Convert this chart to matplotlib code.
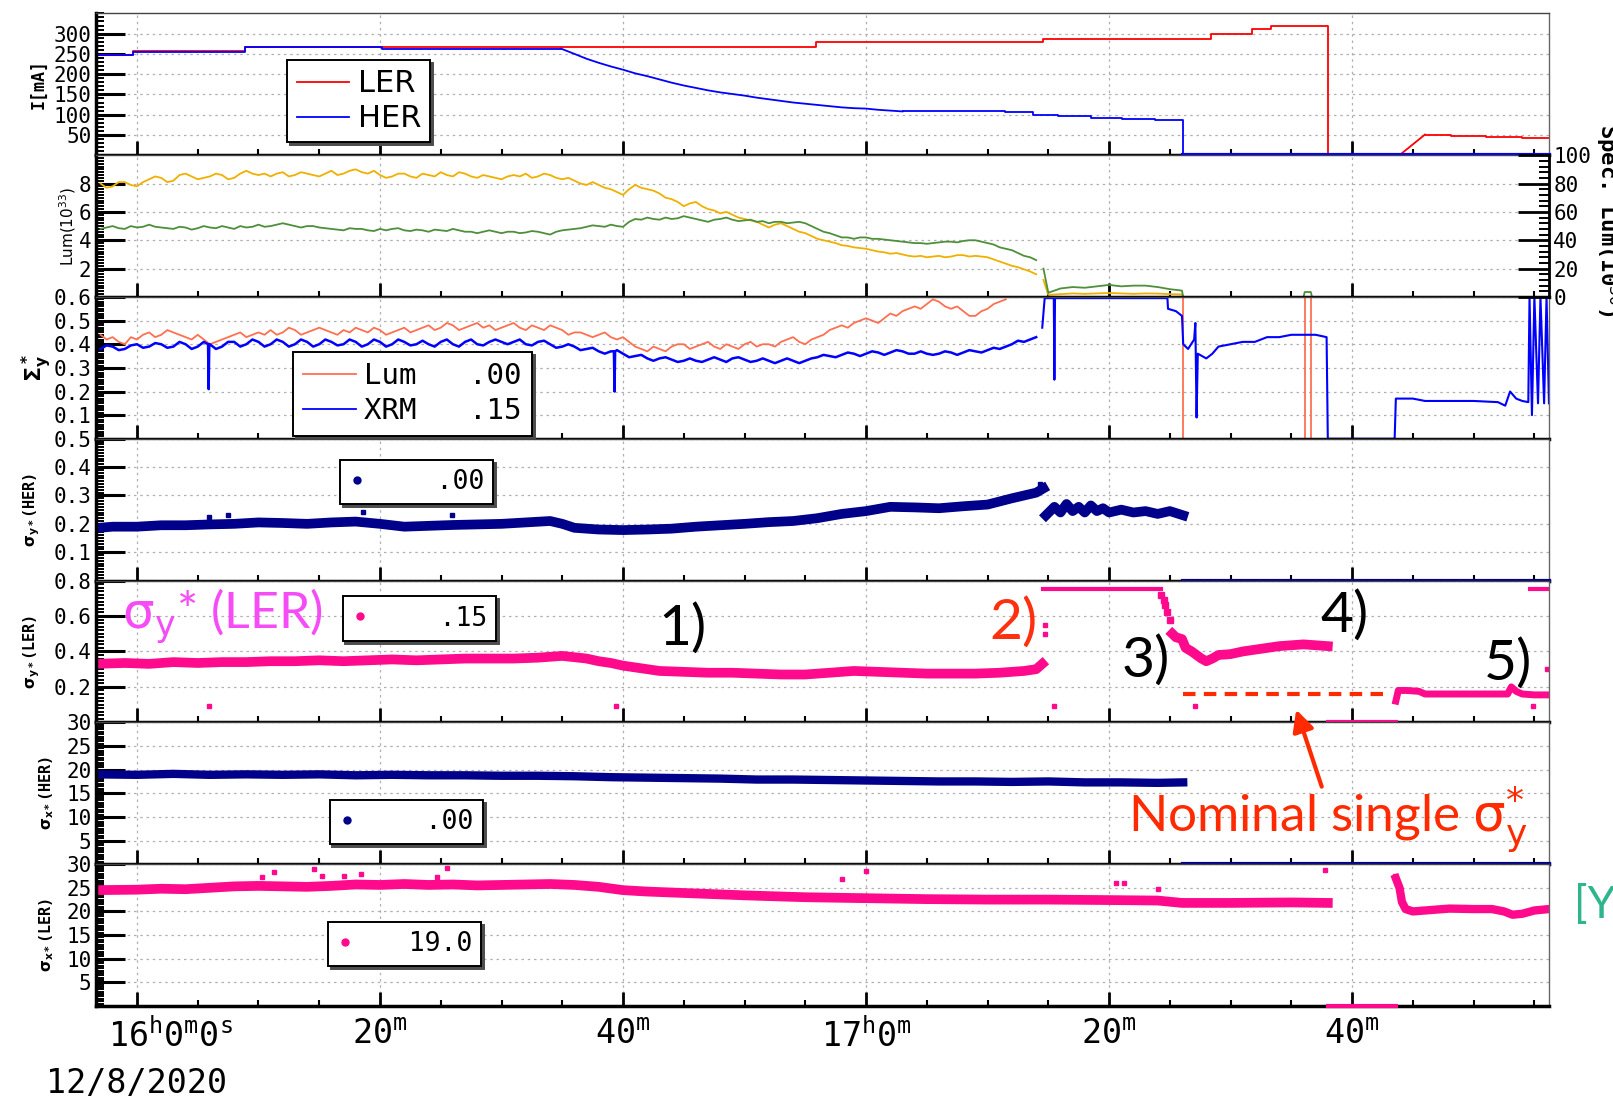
import numpy as np
import matplotlib
matplotlib.use("Agg")
import matplotlib.pyplot as plt
from matplotlib.ticker import AutoMinorLocator, FixedLocator
from matplotlib.lines import Line2D

plt.rcParams.update({
    "figure.facecolor": "white",
    "axes.facecolor": "white",
    "mathtext.fontset": "dejavusans",
    "mathtext.rm": "DejaVu Sans Mono",
    "mathtext.it": "DejaVu Sans Mono:italic",
    "mathtext.bf": "DejaVu Sans Mono:bold",
})
MONO = "DejaVu Sans Mono"
ANNO = ["Lato", "DejaVu Sans"]

C_LER = "#ff0000"
C_HER = "#0000ff"
C_YEL = "#f0b000"
C_GRN = "#4e8f3a"
C_SAL = "#ff7050"
C_NAVY = "#00008b"
C_MAG = "#ff0a8c"
C_NOM = "#ff2a00"

# time axis: minutes after 16:00 (12/8/2020)
T0, T1 = -3.4, 116.2
major_t = [0, 20, 40, 60, 80, 100]
major_lbl = [r"$16^{\mathrm{h}}0^{\mathrm{m}}0^{\mathrm{s}}$", r"$20^{\mathrm{m}}$", r"$40^{\mathrm{m}}$",
             r"$17^{\mathrm{h}}0^{\mathrm{m}}$", r"$20^{\mathrm{m}}$", r"$40^{\mathrm{m}}$"]

# ---- panel 1: beam currents I[mA] ----
ler_step_t = [-3.4, -0.3, 8.9, 55.9, 74.6, 88.4, 91.8, 93.3, 98.0, 103.9]
ler_step_v = [248, 256, 268, 279, 287, 300, 311, 319, 0, 0]
ler_ramp_t = [103.9, 106.0]
ler_ramp_v = [0, 51]
ler_tail_t = [106.0, 108.1, 111.0, 114.0, 116.2]
ler_tail_v = [51, 48, 45, 43, 43]

her_a_t = [-3.4, -0.3, 8.9, 20.2, 34.9]
her_a_v = [248, 255, 266, 263, 263]
her_decay_t = [34.9, 36, 37, 38, 39, 40, 41, 42, 43, 44, 45, 46, 47, 48, 49,
               50, 51, 52, 53, 54, 55, 56, 57, 58, 59, 60, 61, 62, 63]
her_decay_v = [263, 250, 238, 228, 219, 211, 202, 195, 187, 179, 172, 166, 160, 155, 151,
               147, 142, 138, 134, 130, 127, 124, 121, 118, 116, 115, 112, 110, 108]
her_b_t = [63, 71.4, 73.7, 75.8, 78.5, 81.1, 83.8, 86.1]
her_b_v = [108, 106, 100, 96, 93, 90, 87, 0]
her_off_t = [86.1, 116.2]     # HER aborted -> zero
ler_off_t = [98.0, 103.6]     # LER aborted -> zero

# ---- panel 2: luminosity, samples every minute (t = -3..74) and half-minute in between ----
lum_t = list(range(-3, 75))
lum_mid_t = list(np.arange(-2.5, 74, 1.0))
lum_yel = [8.0, 7.8, 8.1, 7.8, 8.3, 8.4, 8.2, 8.7, 8.3, 8.5, 8.6, 8.4, 8.9,
           8.6, 8.5, 8.8, 8.6, 8.7, 8.5, 8.9, 8.7, 9.0, 8.7,
           8.6, 8.5, 8.7, 8.4, 8.6, 8.8, 8.5, 8.7, 8.4, 8.5,
           8.3, 8.6, 8.7, 8.5, 8.6, 8.3, 8.2, 7.9, 7.9, 7.6,
           7.2, 7.9, 7.6, 7.3, 6.9, 6.4, 6.7, 6.2, 5.9, 5.8,
           5.5, 5.3, 4.9, 5.2, 4.8, 4.5, 4.1, 3.9, 3.65, 3.5,
           3.4, 3.2, 3.05, 3.0, 2.85, 2.8, 2.9, 2.85, 2.95, 2.9,
           2.8, 2.5, 2.2, 1.95, 1.6]
lum_yel_mid = [7.7, 8.1, 7.9, 8.1, 8.5, 8.1, 8.6, 8.5, 8.4, 8.7, 8.3, 8.7, 8.7,
               8.7, 8.7, 8.5, 8.8, 8.6, 8.7, 8.6, 8.9, 8.8, 8.9,
               8.4, 8.7, 8.5, 8.7, 8.5, 8.6, 8.8, 8.5, 8.6, 8.4,
               8.5, 8.5, 8.4, 8.7, 8.4, 8.4, 8.0, 8.1, 7.7, 7.4,
               7.6, 7.7, 7.5, 7.0, 6.7, 6.6, 6.4, 6.1, 6.0, 5.6,
               5.4, 5.1, 5.1, 5.0, 4.6, 4.3, 4.0, 3.8, 3.6, 3.45,
               3.3, 3.15, 3.1, 2.9, 2.9, 2.85, 2.8, 2.95, 2.85, 2.85,
               2.65, 2.35, 2.1, 1.8]
lum_grn = [4.8, 5.0, 4.8, 4.9, 5.1, 4.9, 4.8, 4.9, 4.85, 4.9, 5.0, 4.8, 4.9,
           5.1, 5.0, 5.2, 5.0, 5.0, 4.9, 4.8, 4.7, 4.8, 4.7,
           4.8, 4.8, 4.7, 4.75, 4.6, 4.7, 4.8, 4.6, 4.5, 4.7,
           4.5, 4.6, 4.55, 4.6, 4.4, 4.7, 4.8, 4.95, 5.0, 5.1,
           4.95, 5.5, 5.6, 5.45, 5.5, 5.7, 5.5, 5.3, 5.5, 5.45,
           5.4, 5.3, 5.2, 5.3, 5.25, 5.2, 4.8, 4.5, 4.2, 4.1,
           4.2, 4.1, 4.0, 3.9, 3.8, 3.75, 3.85, 3.9, 3.95, 4.0,
           3.8, 3.5, 3.3, 2.9, 2.6]
lum_grn_mid = [4.9, 4.85, 5.0, 4.95, 4.95, 4.85, 4.95, 4.75, 5.0, 4.85, 4.9, 5.0, 4.95,
               4.95, 5.1, 5.1, 4.9, 5.0, 4.85, 4.75, 4.85, 4.8, 4.65,
               4.7, 4.85, 4.65, 4.7, 4.75, 4.65, 4.7, 4.6, 4.6, 4.6,
               4.6, 4.5, 4.65, 4.5, 4.6, 4.75, 4.85, 5.05, 4.95, 5.0,
               5.3, 5.45, 5.5, 5.6, 5.55, 5.6, 5.4, 5.45, 5.6, 5.35,
               5.45, 5.35, 5.3, 5.2, 5.3, 5.0, 4.6, 4.35, 4.2, 4.2,
               4.1, 4.05, 3.95, 3.85, 3.8, 3.8, 3.9, 3.85, 4.0, 3.9,
               3.7, 3.4, 3.1, 2.8]
yel_tail_t = [74.6, 75, 76, 77, 78, 79, 80, 81, 82, 83, 84, 85, 86, 86.1, 116.2]
yel_tail_v = [1.2, 0.15, 0.2, 0.25, 0.22, 0.25, 0.28, 0.25, 0.22, 0.25, 0.24, 0.2, 0.18, 0.0, 0.0]
grn_tail_t = [74.6, 75, 76, 77, 78, 79, 80, 81, 82, 83, 84, 85, 86, 86.1, 96.0, 96.1, 96.6, 96.7, 116.2]
grn_tail_v = [2.0, 0.3, 0.6, 0.7, 0.65, 0.75, 0.85, 0.75, 0.8, 0.8, 0.7, 0.55, 0.45, 0, 0, 0.35, 0.35, 0, 0]

# ---- panel 3: Sigma_y* from Lum and XRM ----
sal_t = list(range(-3, 72)) + [71.5]
sal_mid_t = list(np.arange(-2.5, 71, 1.0))
sal_v = [0.44, 0.43, 0.40, 0.42, 0.45, 0.44, 0.45, 0.43, 0.44, 0.40, 0.42, 0.44, 0.43,
         0.45, 0.46, 0.45, 0.46, 0.45, 0.47, 0.45, 0.46, 0.47, 0.45,
         0.46, 0.45, 0.47, 0.46, 0.48, 0.47, 0.48, 0.47, 0.49, 0.48,
         0.47, 0.49, 0.46, 0.47, 0.48, 0.46, 0.45, 0.44, 0.44, 0.43,
         0.43, 0.39, 0.37, 0.38, 0.39, 0.40, 0.39, 0.41, 0.38, 0.39,
         0.40, 0.39, 0.40, 0.41, 0.43, 0.40, 0.43, 0.46, 0.48, 0.49,
         0.51, 0.49, 0.53, 0.54, 0.56, 0.57, 0.58, 0.55, 0.54, 0.52,
         0.55, 0.58, 0.59]
sal_mid_v = [0.42, 0.41, 0.43, 0.44, 0.43, 0.46, 0.44, 0.42, 0.42, 0.41, 0.43, 0.45, 0.44,
             0.44, 0.44, 0.47, 0.44, 0.46, 0.46, 0.44, 0.45, 0.46, 0.47,
             0.44, 0.46, 0.45, 0.47, 0.46, 0.49, 0.46, 0.48, 0.47, 0.46,
             0.48, 0.47, 0.48, 0.46, 0.47, 0.44, 0.45, 0.43, 0.45, 0.42,
             0.41, 0.38, 0.39, 0.37, 0.40, 0.38, 0.40, 0.39, 0.40, 0.38,
             0.41, 0.40, 0.39, 0.42, 0.41, 0.42, 0.44, 0.47, 0.47, 0.50,
             0.50, 0.51, 0.52, 0.55, 0.55, 0.59, 0.56, 0.56, 0.52, 0.54,
             0.57]
sal_tail_t = [86.1, 86.1, 96.1, 96.1, 96.6, 96.6, 116.2]
sal_tail_v = [0.6, 0.0, 0.0, 0.6, 0.6, 0.0, 0.0]

xrm_t = list(range(-3, 75))
xrm_mid_t = list(np.arange(-2.5, 74, 1.0))
xrm_v = [0.38, 0.39, 0.38, 0.40, 0.39, 0.40, 0.39, 0.40, 0.39, 0.40, 0.39, 0.41, 0.40,
         0.41, 0.40, 0.41, 0.40, 0.41, 0.40, 0.41, 0.40, 0.41, 0.40,
         0.41, 0.40, 0.41, 0.40, 0.40, 0.41, 0.40, 0.41, 0.40, 0.41,
         0.41, 0.41, 0.40, 0.41, 0.40, 0.39, 0.39, 0.38, 0.37, 0.37,
         0.36, 0.35, 0.34, 0.34, 0.335, 0.33, 0.33, 0.335, 0.335, 0.34,
         0.335, 0.33, 0.33, 0.33, 0.33, 0.33, 0.345, 0.35, 0.355, 0.36,
         0.36, 0.365, 0.365, 0.37, 0.36, 0.36, 0.36, 0.365, 0.365, 0.37,
         0.375, 0.38, 0.40, 0.41, 0.43]
xrm_mid_v = [0.395, 0.375, 0.395, 0.385, 0.405, 0.385, 0.41, 0.38, 0.41, 0.38, 0.41, 0.39, 0.42,
             0.39, 0.42, 0.39, 0.42, 0.39, 0.42, 0.395, 0.42, 0.39, 0.42,
             0.39, 0.42, 0.395, 0.415, 0.39, 0.42, 0.39, 0.42, 0.395, 0.42,
             0.40, 0.42, 0.395, 0.415, 0.385, 0.40, 0.375, 0.385, 0.36, 0.375,
             0.345, 0.355, 0.33, 0.345, 0.325, 0.34, 0.325, 0.345, 0.325, 0.345,
             0.325, 0.34, 0.32, 0.34, 0.32, 0.34, 0.355, 0.345, 0.365, 0.35,
             0.37, 0.355, 0.375, 0.36, 0.37, 0.355, 0.37, 0.355, 0.375, 0.365,
             0.385, 0.39, 0.415, 0.42]
xrm_spike_t = [5.85, 5.9, 5.95, 39.25, 39.3, 39.35]
xrm_spike_v = [0.40, 0.21, 0.40, 0.37, 0.20, 0.37]
xrm_tail_t = [74.5, 74.7, 75.45, 75.5, 75.55, 84.8, 84.85, 85.5, 86.0, 86.1,
              86.5, 87.0, 87.1, 87.2, 87.3, 88, 88.5, 89, 90, 91,
              92, 93, 94, 95, 96, 97, 97.9, 98.0, 103.5, 103.6,
              104, 105, 106, 108, 110, 112, 112.6, 113, 113.5, 114,
              114.5, 114.6, 114.8, 115.0, 115.3, 115.5, 115.8, 116.0, 116.2]
xrm_tail_v = [0.47, 0.595, 0.595, 0.25, 0.595, 0.595, 0.55, 0.54, 0.52, 0.40,
              0.38, 0.42, 0.49, 0.09, 0.36, 0.34, 0.36, 0.39, 0.40, 0.41,
              0.41, 0.43, 0.43, 0.44, 0.44, 0.44, 0.43, 0.0, 0.0, 0.17,
              0.17, 0.17, 0.16, 0.16, 0.16, 0.155, 0.14, 0.2, 0.17, 0.16,
              0.155, 0.6, 0.1, 0.6, 0.15, 0.6, 0.15, 0.6, 0.15]

# ---- panel 4: sigma_y*(HER) ----
syh_t = [-3.4, -2, 0, 2, 4, 6, 8, 10, 12, 14, 16, 18, 20, 22, 24, 26, 28, 30, 32, 34, 35,
         36, 37, 38, 40, 42, 44, 46, 48, 50, 52, 54, 56, 58, 60, 62, 64, 66, 68, 70, 72, 73, 74, 74.6]
syh_v = [0.185, 0.19, 0.19, 0.195, 0.195, 0.198, 0.2, 0.205, 0.203, 0.2, 0.205, 0.208, 0.2, 0.19,
         0.193, 0.196, 0.198, 0.2, 0.205, 0.21, 0.2, 0.186, 0.183, 0.18, 0.178, 0.18, 0.183, 0.19,
         0.195, 0.2, 0.206, 0.21, 0.22, 0.235, 0.245, 0.26, 0.258, 0.255, 0.262, 0.268, 0.29, 0.3,
         0.31, 0.325]
syh2_t = [74.8, 75.5, 76, 76.5, 77, 77.5, 78, 78.5, 79, 79.5, 80, 81, 82, 83, 84, 85, 86.1]
syh2_v = [0.23, 0.26, 0.24, 0.27, 0.245, 0.26, 0.24, 0.265, 0.245, 0.255, 0.24, 0.25, 0.24,
          0.245, 0.235, 0.245, 0.23]
syh_out_t = [5.9, 7.5, 18.6, 25.9, 74.3]
syh_out_v = [0.225, 0.231, 0.243, 0.231, 0.34]

# ---- panel 5: sigma_y*(LER) ----
syl_t = [-3.4, -1, 1, 3, 5, 7, 9, 11, 13, 15, 17, 19, 21, 23, 25, 27, 29, 31, 33, 35, 37, 38, 39,
         40, 41, 42, 43, 45, 47, 49, 51, 53, 55, 57, 59, 61, 63, 65, 67, 69, 71, 73, 74, 74.5]
syl_v = [0.33, 0.335, 0.33, 0.34, 0.335, 0.34, 0.34, 0.345, 0.345, 0.35, 0.345, 0.35, 0.355,
         0.35, 0.355, 0.36, 0.36, 0.36, 0.365, 0.375, 0.36, 0.345, 0.335, 0.32, 0.31, 0.3, 0.29,
         0.285, 0.28, 0.28, 0.275, 0.27, 0.27, 0.28, 0.29, 0.285, 0.28, 0.275, 0.275, 0.275, 0.28,
         0.29, 0.3, 0.33]
syl_top_t = [74.6, 84.3]
syl_top_v = [0.75, 0.75]
syl_drop_t = [84.3, 84.5, 84.6, 84.8, 85.0]
syl_drop_v = [0.72, 0.69, 0.66, 0.62, 0.58]
syl2_t = [85.2, 85.5, 86, 86.3, 86.8, 87.2, 87.6, 88, 88.5, 89, 90, 91, 92, 93, 94, 95, 96, 97, 98]
syl2_v = [0.5, 0.48, 0.47, 0.42, 0.4, 0.38, 0.36, 0.345, 0.36, 0.38, 0.385, 0.4, 0.41, 0.42,
          0.43, 0.435, 0.44, 0.435, 0.43]
syl3_t = [103.6, 103.8, 104.5, 105.5, 106, 108, 110, 112, 112.8, 113.1, 113.5, 114, 115, 116.2]
syl3_v = [0.12, 0.18, 0.18, 0.175, 0.16, 0.16, 0.16, 0.16, 0.16, 0.2, 0.175, 0.16, 0.155, 0.155]
syl_end_t = [114.6, 116.2]
syl_end_v = [0.75, 0.75]
syl_out_t = [5.9, 39.4, 75.5, 87.1, 74.7, 74.7, 114.9, 116.0]
syl_out_v = [0.09, 0.09, 0.09, 0.09, 0.5, 0.55, 0.09, 0.3]
nominal_t = [86.1, 102.6]
nominal_v = [0.16, 0.16]

# ---- panel 6: sigma_x*(HER) ----
sxh_t = [-3.4, 0, 3, 6, 9, 12, 15, 18, 21, 24, 27, 30, 33, 36, 39, 42, 45, 48, 51, 54,
         57, 60, 63, 66, 69, 72, 75, 78, 81, 84, 86.1]
sxh_v = [19.0, 18.9, 19.1, 18.9, 19.0, 18.9, 19.0, 18.8, 18.9, 18.8, 18.8, 18.7, 18.7, 18.6,
         18.4, 18.3, 18.2, 18.1, 17.9, 17.9, 17.8, 17.7, 17.6, 17.5, 17.5, 17.4, 17.5, 17.3,
         17.3, 17.2, 17.3]

# ---- panel 7: sigma_x*(LER) ----
sxl_t = [-3.4, 0, 2, 4, 6, 8, 10, 12, 14, 16, 18, 20, 22, 24, 26, 28, 30, 32, 34, 36, 38,
         40, 42, 44, 46, 50, 55, 60, 65, 70, 75, 80, 84, 86, 90, 95, 98]
sxl_v = [24.5, 24.6, 24.8, 24.7, 25.0, 25.3, 25.4, 25.3, 25.2, 25.4, 25.7, 25.6, 25.8, 25.6,
         25.7, 25.5, 25.6, 25.7, 25.8, 25.6, 25.2, 24.5, 24.2, 24.0, 23.8, 23.4, 23.0, 22.8,
         22.6, 22.5, 22.5, 22.4, 22.3, 21.8, 21.8, 21.9, 21.8]
sxl2_t = [103.6, 103.9, 104.1, 104.4, 105, 106, 108, 110, 111.5, 112.5, 113.2, 114, 115, 116.2]
sxl2_v = [27.0, 25.0, 22.0, 20.5, 20.0, 20.2, 20.6, 20.5, 20.5, 20.0, 19.3, 19.5, 20.2, 20.5]
sxl_out_t = [10.3, 11.3, 14.6, 15.2, 17.0, 18.4, 24.7, 25.5, 58.0, 60.0, 80.6, 81.2, 84.0, 97.8, 103.5]
sxl_out_v = [27.2, 28.3, 28.9, 27.5, 27.4, 28.0, 27.3, 29.2, 26.8, 28.5, 26.0, 26.0, 24.8, 28.8, 27.5]


def merged(t_a, v_a, t_b, v_b):
    t = np.array(list(t_a) + list(t_b), dtype=float)
    v = np.array(list(v_a) + list(v_b), dtype=float)
    o = np.argsort(t, kind="stable")
    return t[o], v[o]


fig = plt.figure(figsize=(16.13, 10.97), dpi=100)
gs = fig.add_gridspec(7, 1, left=0.0593, right=0.9603, top=0.9878, bottom=0.0830, hspace=0)
axes = [fig.add_subplot(gs[0])]
for i in range(1, 7):
    axes.append(fig.add_subplot(gs[i], sharex=axes[0]))
ax1, ax2, ax3, ax4, ax5, ax6, ax7 = axes


def style(ax, ylim, yticks, ylabels, nminor=10):
    ax.set_xlim(T0, T1)
    ax.set_ylim(*ylim)
    ax.yaxis.set_major_locator(FixedLocator(yticks))
    ax.set_yticklabels(ylabels, family=MONO, fontsize=15)
    ax.yaxis.set_minor_locator(AutoMinorLocator(nminor))
    ax.xaxis.set_major_locator(FixedLocator(major_t))
    ax.xaxis.set_minor_locator(FixedLocator(list(range(0, 120, 5))))
    ax.tick_params(axis="y", which="major", direction="in", length=21, width=2.2, pad=3,
                   left=True, right=False)
    ax.tick_params(axis="y", which="minor", direction="in", length=6, width=1.4,
                   left=True, right=False)
    ax.tick_params(axis="x", which="major", direction="in", length=10, width=2,
                   top=False, bottom=True, labelbottom=False)
    ax.tick_params(axis="x", which="minor", direction="in", length=4.5, width=1.5,
                   top=False, bottom=True)
    ax.grid(True, which="major", ls=(0, (2, 3)), color="#b0b0b0", lw=0.9)
    ax.spines["left"].set_linewidth(2.5)
    ax.spines["bottom"].set_linewidth(2.5)
    ax.spines["top"].set_linewidth(1.0)
    ax.spines["top"].set_color("#444444")
    ax.spines["right"].set_linewidth(1.0)
    ax.spines["right"].set_color("#666666")


def dot_legend(ax, color, text, anchor, ms=5):
    h = Line2D([], [], ls="none", marker="o", color=color, ms=ms)
    leg = ax.legend([h], [text], loc="upper left", bbox_to_anchor=anchor, borderaxespad=0,
                    frameon=True, fancybox=False, framealpha=1, edgecolor="black",
                    prop={"family": MONO, "size": 19}, handlelength=0.6, handletextpad=0.9,
                    borderpad=0.35, shadow={"ox": 2, "oy": -2, "color": "0.3", "alpha": 1})
    leg.get_frame().set_linewidth(1.4)
    return leg


# panel 1
ax1.plot(ler_step_t, ler_step_v, color=C_LER, lw=1.3, drawstyle="steps-post")
ax1.plot(ler_ramp_t, ler_ramp_v, color=C_LER, lw=1.3)
ax1.plot(ler_tail_t, ler_tail_v, color=C_LER, lw=1.3, drawstyle="steps-post")
ax1.plot(her_a_t, her_a_v, color=C_HER, lw=1.3, drawstyle="steps-post")
ax1.plot(her_decay_t, her_decay_v, color=C_HER, lw=1.3)
ax1.plot(her_b_t, her_b_v, color=C_HER, lw=1.3, drawstyle="steps-post")
ax1.plot(her_off_t, [0, 0], color=C_HER, lw=3, clip_on=False, zorder=5)
style(ax1, (0, 350), [50, 100, 150, 200, 250, 300], ["50", "100", "150", "200", "250", "300"], 5)
leg = ax1.legend([Line2D([], [], color=C_LER, lw=1.3), Line2D([], [], color=C_HER, lw=1.3)],
                 ["LER", "HER"], loc="upper left", bbox_to_anchor=(0.132, 0.671), borderaxespad=0,
                 fancybox=False, framealpha=1, edgecolor="black", prop={"size": 22},
                 handlelength=1.7, handletextpad=0.3, borderpad=0.3, labelspacing=0.2,
                 shadow={"ox": 2, "oy": -2, "color": "0.3", "alpha": 1})
leg.get_frame().set_linewidth(1.4)
ax1.set_ylabel("I[mA]", family=MONO, fontweight="bold", fontsize=12)
ax1.yaxis.set_label_coords(-0.033, 0.5)

# panel 2
yt, yv = merged(lum_t, lum_yel, lum_mid_t, lum_yel_mid)
gt, gv = merged(lum_t, lum_grn, lum_mid_t, lum_grn_mid)
ax2.plot(yt, yv, color=C_YEL, lw=1.3)
ax2.plot(yel_tail_t, yel_tail_v, color=C_YEL, lw=1.3)
ax2.plot(gt, gv, color=C_GRN, lw=1.3)
ax2.plot(grn_tail_t, grn_tail_v, color=C_GRN, lw=1.3)
style(ax2, (0, 10), [2, 4, 6, 8], ["2", "4", "6", "8"], 10)
ax2.set_ylabel(r"Lum(10$^{33}$)", fontsize=11)
ax2.yaxis.set_label_coords(-0.012, 0.5)
ax2r = ax2.twinx()
ax2r.set_ylim(0, 100)
ax2r.yaxis.set_major_locator(FixedLocator([0, 20, 40, 60, 80, 100]))
ax2r.set_yticklabels(["0", "20", "40", "60", "80", "100"], family=MONO, fontsize=15)
ax2r.yaxis.set_minor_locator(AutoMinorLocator(5))
ax2r.tick_params(axis="y", which="major", direction="in", length=22, width=2, pad=3)
ax2r.tick_params(axis="y", which="minor", direction="in", length=7, width=1.4)
ax2r.spines["right"].set_linewidth(2)
ax2r.spines["right"].set_color("black")
for s in ("left", "top", "bottom"):
    ax2r.spines[s].set_visible(False)
fig.text(1593 / 1613, 1 - 220 / 1097, r"Spec. Lum(10$^{30}$)", family=MONO, fontweight="bold",
         fontsize=16, rotation=270, ha="left", va="center")

# panel 3
st, sv = merged(sal_t, sal_v, sal_mid_t, sal_mid_v)
xt, xv = merged(xrm_t, xrm_v, xrm_mid_t, xrm_mid_v)
xt, xv = merged(xt, xv, xrm_spike_t, xrm_spike_v)
ax3.plot(st, sv, color=C_SAL, lw=1.3)
ax3.plot(sal_tail_t, sal_tail_v, color=C_SAL, lw=1.3)
ax3.plot(xt, xv, color=C_HER, lw=1.8)
ax3.plot(xrm_tail_t, xrm_tail_v, color=C_HER, lw=1.5)
style(ax3, (0, 0.6), [0.1, 0.2, 0.3, 0.4, 0.5, 0.6], ["0.1", "0.2", "0.3", "0.4", "0.5", "0.6"], 10)
leg = ax3.legend([Line2D([], [], color=C_SAL, lw=1.3), Line2D([], [], color=C_HER, lw=1.3)],
                 ["Lum   .00", "XRM   .15"], loc="upper left", bbox_to_anchor=(0.1358, 0.613),
                 borderaxespad=0, fancybox=False, framealpha=1, edgecolor="black",
                 prop={"family": MONO, "size": 21}, handlelength=1.8, handletextpad=0.3,
                 borderpad=0.35, labelspacing=0.25,
                 shadow={"ox": 2, "oy": -2, "color": "0.3", "alpha": 1})
leg.get_frame().set_linewidth(1.4)
ax3.set_ylabel(r"$\mathbf{\Sigma_y^*}$", fontsize=16)
ax3.yaxis.set_label_coords(-0.029, 0.5)

# panel 4
ax4.plot(syh_t, syh_v, color=C_NAVY, lw=7)
ax4.plot(syh2_t, syh2_v, color=C_NAVY, lw=7)
ax4.plot(syh_out_t, syh_out_v, ls="none", marker="s", ms=3, color=C_NAVY)
ax4.plot(her_off_t, [0, 0], color=C_NAVY, lw=3, clip_on=False, zorder=5)
style(ax4, (0, 0.5), [0.1, 0.2, 0.3, 0.4, 0.5], ["0.1", "0.2", "0.3", "0.4", "0.5"], 10)
dot_legend(ax4, C_NAVY, "   .00", (0.168, 0.852))
ax4.set_ylabel(r"$\mathbf{\sigma_{y*}}$(HER)", family=MONO, fontweight="bold", fontsize=11)
ax4.yaxis.set_label_coords(-0.037, 0.5)

# panel 5
ax5.plot(syl_t, syl_v, color=C_MAG, lw=7)
ax5.plot(syl_top_t, syl_top_v, color=C_MAG, lw=3)
ax5.plot(syl_drop_t, syl_drop_v, ls="none", marker="s", ms=4, color=C_MAG)
ax5.plot(syl2_t, syl2_v, color=C_MAG, lw=7)
ax5.plot(syl3_t, syl3_v, color=C_MAG, lw=5)
ax5.plot(syl_end_t, syl_end_v, color=C_MAG, lw=3)
ax5.plot(syl_out_t, syl_out_v, ls="none", marker="s", ms=3, color=C_MAG)
ax5.plot(ler_off_t, [0, 0], color=C_MAG, lw=3, clip_on=False, zorder=5)
ax5.plot(nominal_t, nominal_v, color=C_NOM, lw=3, ls=(0, (3, 2)))
style(ax5, (0, 0.8), [0.2, 0.4, 0.6, 0.8], ["0.2", "0.4", "0.6", "0.8"], 10)
dot_legend(ax5, C_MAG, "   .15", (0.170, 0.889))
ax5.set_ylabel(r"$\mathbf{\sigma_{y*}}$(LER)", family=MONO, fontweight="bold", fontsize=11)
ax5.yaxis.set_label_coords(-0.037, 0.5)
ax5.text(-1.2, 0.6, r"$\mathrm{\sigma}_\mathrm{y}$* (LER)", color="#f54cf5", fontsize=36,
         family=ANNO, ha="left", va="center")
ax5.text(44.9, 0.53, "1)", color="black", fontsize=41, family=ANNO, ha="center", va="center")
ax5.text(72.1, 0.56, "2)", color="#ff3010", fontsize=41, family=ANNO, ha="center", va="center")
ax5.text(83.0, 0.345, "3)", color="black", fontsize=41, family=ANNO, ha="center", va="center")
ax5.text(99.4, 0.6, "4)", color="black", fontsize=41, family=ANNO, ha="center", va="center")
ax5.text(112.8, 0.333, "5)", color="black", fontsize=41, family=ANNO, ha="center", va="center")

# panel 6
ax6.plot(sxh_t, sxh_v, color=C_NAVY, lw=6)
ax6.plot(her_off_t, [0, 0], color=C_NAVY, lw=3, clip_on=False, zorder=5)
style(ax6, (0, 30), [5, 10, 15, 20, 25, 30], ["5", "10", "15", "20", "25", "30"], 10)
dot_legend(ax6, C_NAVY, "   .00", (0.161, 0.454))
ax6.set_ylabel(r"$\mathbf{\sigma_{x*}}$(HER)", family=MONO, fontweight="bold", fontsize=11)
ax6.yaxis.set_label_coords(-0.027, 0.5)
ax6.text(98.0, 9.4, r"Nominal single $\mathrm{\sigma}_\mathrm{y}^{*}$", color=C_NOM, fontsize=37,
         family=ANNO, ha="center", va="center")
ax6.annotate("", xy=(95.4, 0.072), xycoords=ax5.transData, xytext=(97.5, 16.4),
             textcoords="data", annotation_clip=False,
             arrowprops=dict(arrowstyle="-|>", color=C_NOM, lw=3, mutation_scale=32,
                             shrinkA=0, shrinkB=0))

# panel 7
ax7.plot(sxl_t, sxl_v, color=C_MAG, lw=7)
ax7.plot(sxl2_t, sxl2_v, color=C_MAG, lw=6)
ax7.plot(sxl_out_t, sxl_out_v, ls="none", marker="s", ms=3, color=C_MAG)
ax7.plot(ler_off_t, [0, 0], color=C_MAG, lw=3, clip_on=False, zorder=5)
style(ax7, (0, 30), [5, 10, 15, 20, 25, 30], ["5", "10", "15", "20", "25", "30"], 10)
dot_legend(ax7, C_MAG, "  19.0", (0.160, 0.592))
ax7.set_ylabel(r"$\mathbf{\sigma_{x*}}$(LER)", family=MONO, fontweight="bold", fontsize=11)
ax7.yaxis.set_label_coords(-0.027, 0.5)

# time labels
ax7.tick_params(axis="x", which="major", labelbottom=True, pad=9)
ax7.set_xticklabels([""] + major_lbl[1:], fontsize=24)
for lbl in ax7.get_xticklabels():
    lbl.set_math_fontfamily("custom")
ax7.annotate(major_lbl[0], xy=(-2.4, 0), xycoords=ax7.get_xaxis_transform(), xytext=(0, -9),
             textcoords="offset points", ha="left", va="top", fontsize=24, math_fontfamily="custom",
             annotation_clip=False)
ax7.annotate("12/8/2020", xy=(0, 0), xycoords=ax7.get_xaxis_transform(), xytext=(0, -44),
             textcoords="offset points", ha="center", va="top", fontsize=24, family=MONO,
             annotation_clip=False)

fig.text(1574 / 1613, 1 - 905 / 1097, "[Y", color="#2fb58e", fontsize=32, family=ANNO,
         ha="left", va="center")

fig.savefig("out.png", dpi=100)
